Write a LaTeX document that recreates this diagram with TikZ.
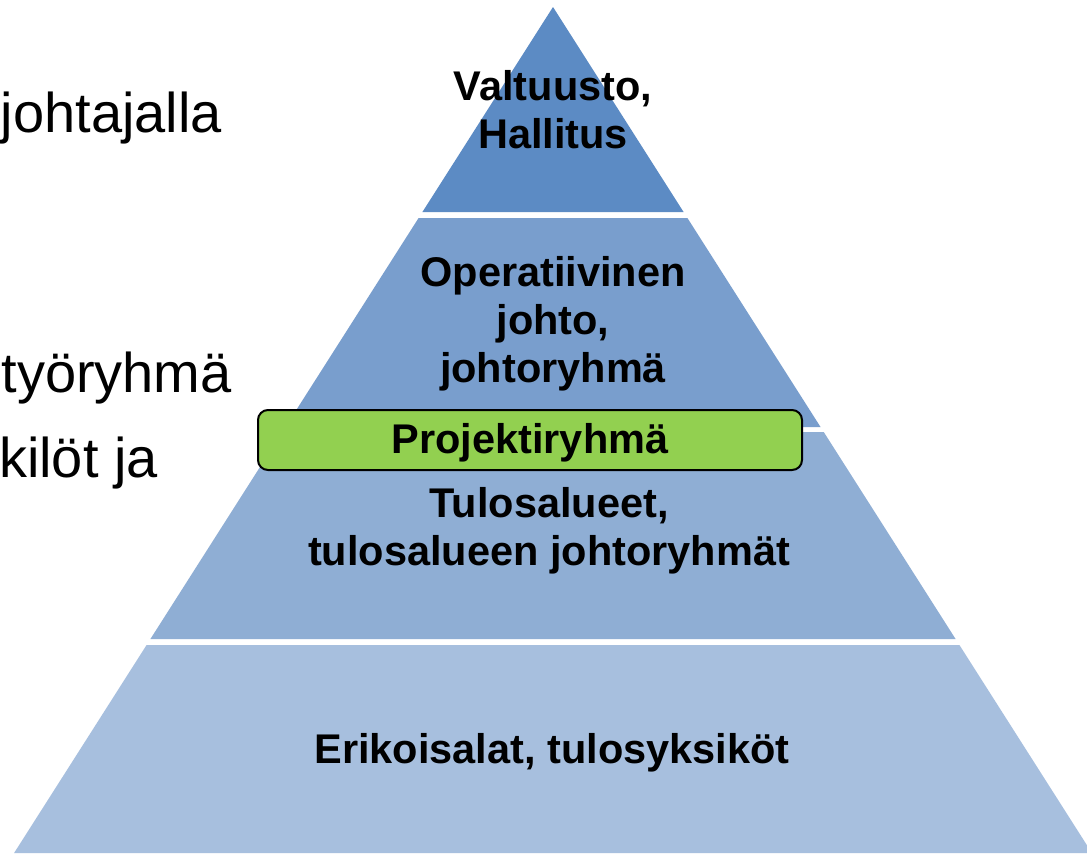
\documentclass[tikz,border=0pt]{standalone}
\usepackage{fontspec}
\setmainfont{Liberation Sans}
\usepackage{xcolor}
\usepackage{tikz}
\usetikzlibrary{calc,positioning}

\definecolor{lvlA}{RGB}{92,139,196}
\definecolor{lvlB}{RGB}{121,158,205}
\definecolor{lvlC}{RGB}{143,174,212}
\definecolor{lvlD}{RGB}{167,191,222}
\definecolor{projgreen}{RGB}{146,208,80}

\begin{document}
\begin{tikzpicture}
[x=1pt,y=-1pt,
levelText/.style={align=center,inner sep=0pt,font=\bfseries\fontsize{41.5}{48}\selectfont,anchor=base},
sideText/.style={inner sep=0pt,font=\fontsize{56}{64}\selectfont,anchor=base east},
projBox/.style={draw,line width=2pt,rounded corners=10pt,fill=projgreen,
	minimum width=544pt,minimum height=60pt,inner sep=0pt}]
\clip (0,0) rectangle (1087,854);
\fill[white] (0,0) rectangle (1087,854);
% pyramid levels
\foreach \ytop/\ybot/\col in {7/212/lvlA,218/427/lvlB,432/639/lvlC,645/853/lvlD}
{
	\fill[\col] ({553-0.637*(\ytop-7)},\ytop) -- ({553+0.637*(\ytop-7)},\ytop)
	-- ({553+0.637*(\ybot-7)},\ybot) -- ({553-0.637*(\ybot-7)},\ybot) -- cycle;
}
% texts in the levels
\node[levelText] (valt) at (553,148) {Valtuusto,\\Hallitus};
\node[levelText] (oper) at (553,382) {Operatiivinen\\johto,\\johtoryhmä};
\node[levelText] (tulos) at (549,565) {Tulosalueet,\\tulosalueen johtoryhmät};
\node[levelText] (erik) at (552,763) {Erikoisalat, tulosyksiköt};
\node[projBox] (proj) at (530,440) {};
\node[levelText] (projtext) at (530,453) {Projektiryhmä};
% texts on the left
\node[sideText] (left1) at (222,132) {johtajalla};
\node[sideText] (left2) at (232,392) {työryhmä};
\node[sideText] (left3) at (158,477) {kilöt ja};
\end{tikzpicture}
\end{document}
